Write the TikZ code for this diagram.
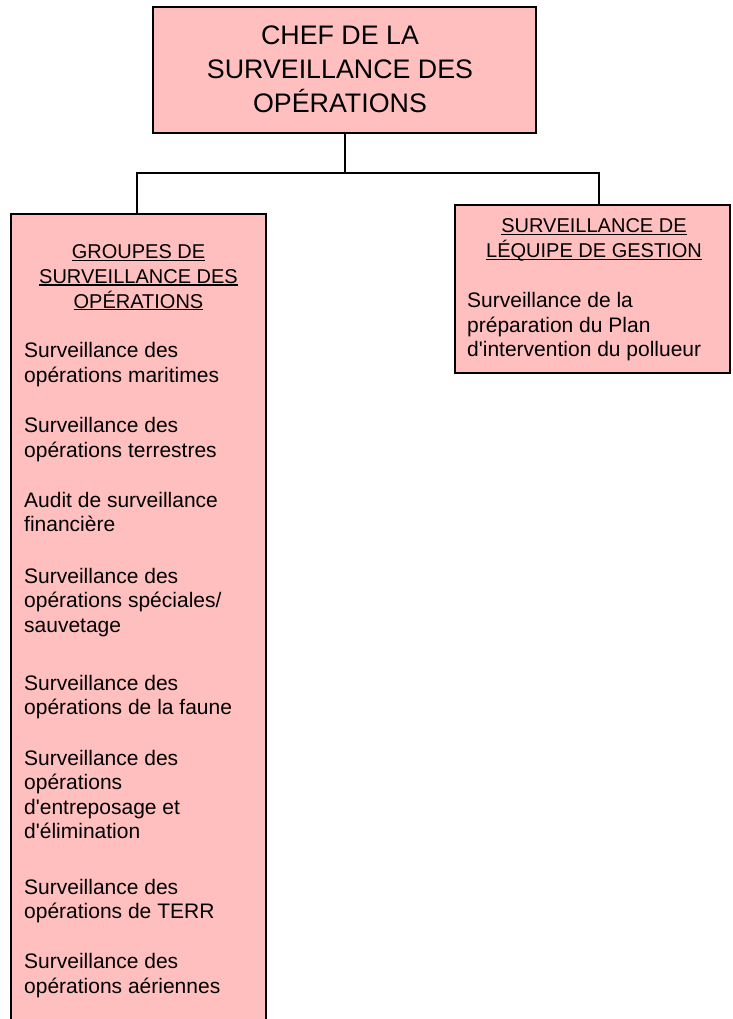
\documentclass[tikz,border=0pt]{standalone}
\usepackage{fontspec}
\setmainfont{Liberation Sans}
\definecolor{boxpink}{RGB}{255,191,191}
% underlined heading line: rule sits just under the baseline, width of the text
\newcommand{\ulhdr}[1]{\setbox0=\hbox{#1}\leavevmode\rlap{\rule[-2.4pt]{\wd0}{1.3pt}}\box0}
\newcommand{\apos}{\textquotesingle}
% multi-line texts are placed by the baseline of their last line
\tikzset{
  orgbox/.style={draw=black, line width=2pt, fill=boxpink, inner sep=0pt},
  link/.style={draw=black, line width=2pt},
  toptext/.style={inner sep=0pt, align=center, anchor=base, font=\fontsize{26.8}{34.1}\selectfont},
  hdrtext/.style={inner sep=0pt, align=center, anchor=base, font=\fontsize{20}{24.8}\selectfont},
  itemtext/.style={inner sep=0pt, align=left, anchor=base west, font=\fontsize{21}{24.5}\selectfont},
}
\begin{document}
\begin{tikzpicture}[x=1pt,y=-1pt]
\useasboundingbox (0,0) rectangle (732,1019);
\clip (0,0) rectangle (732,1019);

% boxes
\node[orgbox, minimum width=383pt, minimum height=126pt] (chef) at (344.5,70) {};
\node[orgbox, minimum width=255pt, minimum height=840pt, anchor=north] (grp) at (138.5,213) {};
\node[orgbox, minimum width=275pt, minimum height=168pt] (eq) at (592.5,289) {};

% connectors
\coordinate (lj) at (137,173);
\coordinate (rj) at (599,173);
\draw[link] (chef.south) -- (chef.south |- lj);
\draw[link] (lj |- grp.north) -- (lj) -- (rj) -- (rj |- eq.north);

% top box title
\node[toptext] (cheft) at (340,112.3) {CHEF DE LA\\SURVEILLANCE DES\\OPÉRATIONS};

% left box
\node[hdrtext] (grph) at (138.5,308) {\ulhdr{GROUPES DE}\\\ulhdr{SURVEILLANCE DES}\\\ulhdr{OPÉRATIONS}};
\node[itemtext] (i1) at (24,382) {Surveillance des\\opérations maritimes};
\node[itemtext] (i2) at (24,457) {Surveillance des\\opérations terrestres};
\node[itemtext] (i3) at (24,531.5) {Audit de surveillance\\financière};
\node[itemtext] (i4) at (24,632) {Surveillance des\\opérations spéciales/\\sauvetage};
\node[itemtext] (i5) at (24,714.5) {Surveillance des\\opérations de la faune};
\node[itemtext] (i6) at (24,838.5) {Surveillance des\\opérations\\d\apos entreposage et\\d\apos élimination};
\node[itemtext] (i7) at (24,918.5) {Surveillance des\\opérations de TERR};
\node[itemtext] (i8) at (24,993) {Surveillance des\\opérations aériennes};

% right box
\node[hdrtext] (eqh) at (594,257.7) {\ulhdr{SURVEILLANCE DE}\\\ulhdr{LÉQUIPE DE GESTION}};
\node[itemtext] (eqb) at (467,356.7) {Surveillance de la\\préparation du Plan\\d\apos intervention du pollueur};
\end{tikzpicture}
\end{document}
